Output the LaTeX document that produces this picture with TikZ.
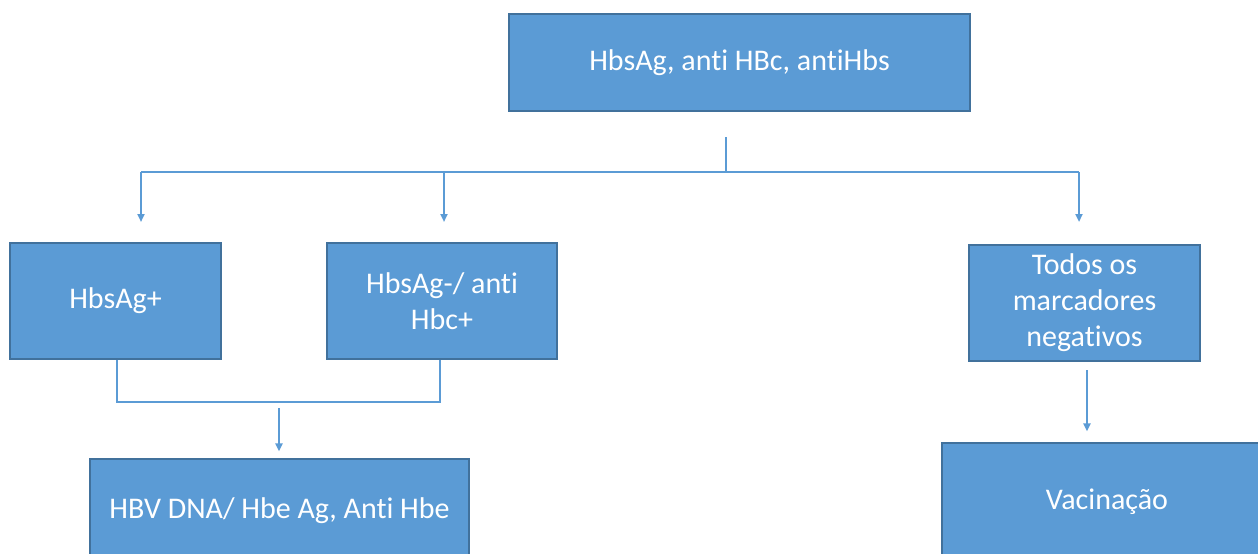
\documentclass[tikz,border=0pt]{standalone}
\usepackage{fontspec}
\setmainfont[Ligatures=NoCommon]{Carlito}
\usetikzlibrary{arrows.meta}
\definecolor{boxfill}{HTML}{5B9BD5}
\definecolor{boxline}{HTML}{41719C}
\begin{document}
\begin{tikzpicture}[x=1pt,y=-1pt,
  box/.style={draw=boxline,line width=1.2pt,fill=boxfill,text=white,
    font=\fontsize{30}{36}\selectfont,align=center,inner sep=0pt},
  conn/.style={draw=boxfill,line width=2.2pt},
  arr/.style={conn,-{Triangle[length=8pt,width=7pt]}}]
\useasboundingbox (0,0) rectangle (1258,554);
\clip (0,0) rectangle (1258,554);
\node[box,minimum width=461pt,minimum height=97pt] (top) at (739.5,62.5) {\raisebox{-2pt}{HbsAg, anti HBc, antiHbs}};
\node[box,minimum width=211pt,minimum height=116pt] (pos) at (115.5,301) {HbsAg+};
\node[box,minimum width=230pt,minimum height=116pt] (hbc) at (442,301) {HbsAg-/ anti\\Hbc+};
\node[box,minimum width=231pt,minimum height=116pt] (neg) at (1084.5,303) {Todos os\\marcadores\\negativos};
\node[box,minimum width=379pt,minimum height=104pt] (dna) at (279.5,511) {HBV DNA/ Hbe Ag, Anti Hbe};
\node[box,minimum width=330pt,minimum height=118pt] (vac) at (1107,502) {Vacinação};
\coordinate (t0) at (726,137);
\coordinate (t1) at (726,172);
\coordinate (bl) at (141,172);
\coordinate (bm) at (444,172);
\coordinate (br) at (1079,172);
\coordinate (ml) at (117,402);
\coordinate (mr) at (440,402);
\draw[conn] (t0) -- (t1);
\draw[conn] (bl) -- (br);
\draw[arr] (bl) -- (141,222);
\draw[arr] (bm) -- (444,222);
\draw[arr] (br) -- (1079,222);
\draw[conn] (pos.south -| ml) -- (ml) -- (mr) -- (hbc.south -| mr);
\draw[arr] (279,408) -- (dna.north -| 279,0) [shorten >=7pt];
\draw[arr] (1087,370) -- (vac.north -| 1087,0) [shorten >=11pt];
\end{tikzpicture}
\end{document}
